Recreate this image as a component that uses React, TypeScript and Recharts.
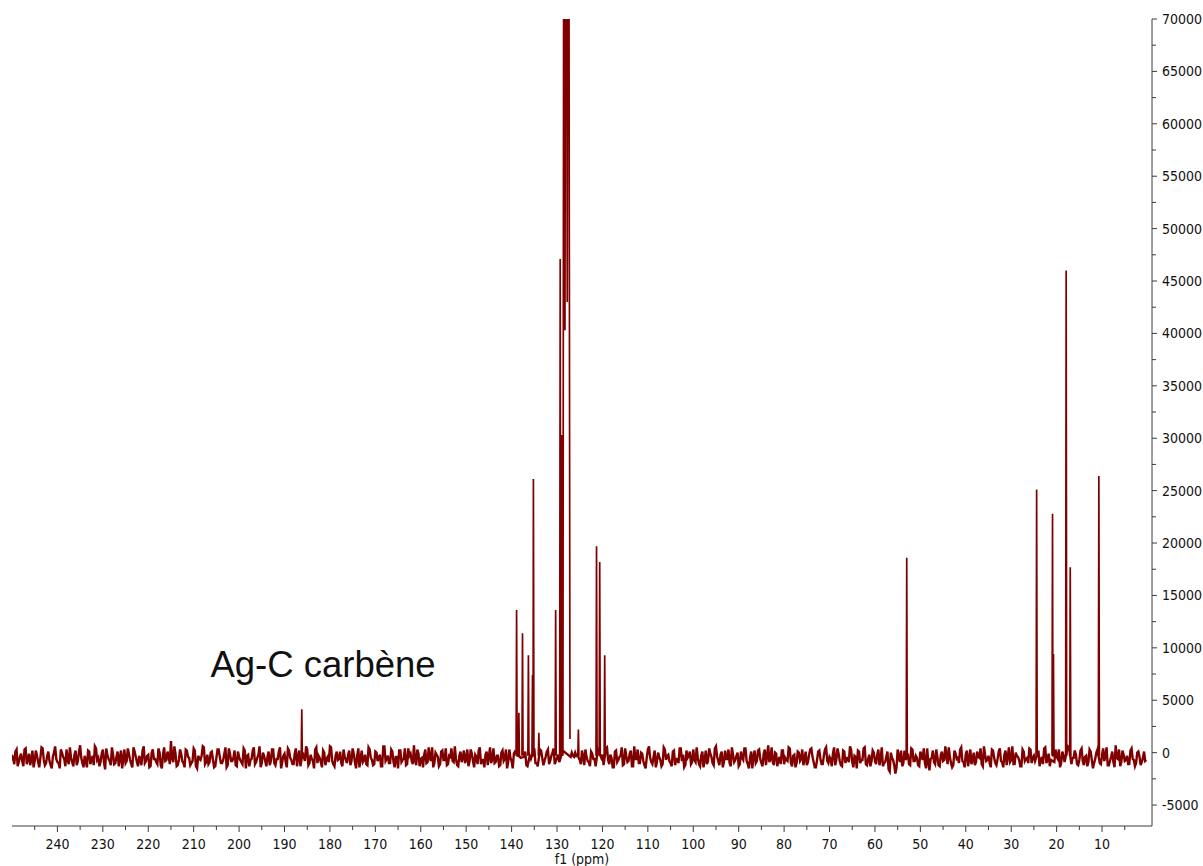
import React from 'react';
import { LineChart, Line, XAxis, YAxis, ReferenceDot } from 'recharts';

// baseline noise (in hundreds). noiseA: every 0.5 ppm from 250 ppm,
// noiseB: the points in between (offset by 0.25 ppm)
const noiseStart = 250;
const noiseStep = 0.5;
const noiseA = [
  -2, -11, 3, -9, -1, -13, 4, -6, -12, 2,
  -8, -3, -14, 5, -7, -10, 1, -12, -4, 6,
  -9, -15, 0, -6, 3, -11, -5, -13, 2, -8,
  7, -10, -3, -14, 1, -7, -12, 4, -5, -9,
  3, -16, -2, -8, 5, -11, -4, -13, 2, -6,
  -10, 4, -7, -14, 1, -9, -3, -12, 6, -8,
  -2, -13, 3, -6, -11, 0, -15, 5, -7, -4,
  11, -9, -1, -12, 3, -8, -14, 2, -5, -10,
  4, -13, -3, -7, 6, -11, -2, -9, 1, -14,
  -5, 3, -10, -7, 5, -12, -1, -8, 2, -13,
  -4, -9, 4, -15, -2, -7, 2, -11, -5, 6,
  -10, -3, -13, 1, -8, 3, -12, -6, 5, -9,
  -1, -14, 2, -7, -11, 4, -4, -13, 0, -8,
  3, -10, -6, -15, 5, -3, -9, 2, -12, -4,
  6, -8, -13, 1, -6, -10, 3, -7, -2, -12,
  4, -9, -3, -14, 2, -7, -11, 5, -5, -12,
  1, -8, -2, -13, 6, -6, -10, 3, -9, -4,
  -15, 2, -7, 4, -11, -3, -8, 7, -12, -1,
  -6, -14, 3, -9, -5, 5, -10, -2, -13, 1,
  -7, 4, -11, -4, -8, 6, -12, -3, -9, 2,
  -6, -13, 3, -8, -2, -11, 5, -7, -14, 1,
  -4, -10, 4, -9, -3, -12, 2, -6, -15, 3,
  -8, -1, -11, 5, -5, -9, 1, -13, -3, -7,
  4, -10, -6, 2, -12, -4, 3, -8, 0, -11,
  -5, -9, -2, -6, 1, -8, -4, -3, 0, -2,
  -7, 2, -12, -4, -9, 1, -6, -13, 3, -10,
  -2, -8, 5, -11, -5, -14, 2, -7, -3, -12,
  4, -9, -1, -13, 6, -6, -10, 0, -8, -15,
  3, -5, -11, 2, -9, -4, -13, 5, -7, -2,
  -10, 1, -12, -6, 4, -8, -14, 2, -3, -11,
  3, -9, -5, -13, 1, -7, -11, 4, -4, -12,
  6, -8, -2, -14, 2, -6, -10, 5, -9, -3,
  -13, 1, -7, 4, -11, -5, -15, 2, -8, 3,
  -10, -1, -12, 7, -6, -9, 0, -13, -4, 2,
  -11, -7, 5, -10, -3, -14, 1, -8, 3, -6,
  -12, -2, 4, -9, -14, 1, -6, -11, 3, -8,
  -4, -13, 5, -7, -1, -12, 2, -10, -5, 6,
  -9, -3, -15, 1, -7, 4, -11, -6, -13, 2,
  -8, -2, -12, 5, -10, -4, -16, 0, -7, -20,
  3, -9, -13, 2, -6, -11, 4, -8, -3, -12,
  1, -7, -10, 4, -17, -5, -9, 3, -12, -2,
  -8, 6, -11, -4, -14, 2, -6, -10, 5, -9,
  -1, -13, 3, -7, -12, 1, -5, -11, 6, -8,
  -3, -14, 2, -10, -6, 4, -9, -2, -12, 5,
  -7, -11, 0, -4, -13, 3, -8, -5, 4, -10,
  -3, -12, 2, -7, -11, 5, -6, -13, 1, -9,
  -4, 3, -10, -2, -14, 6, -8, -5, 2, -11,
  -7, 4, -12, -3, -9, 1, -15, -6, 3, -10,
  -2, -8, 5, -12, -4, -9, 7, -6, -13, 2,
  -8, -3, -11, 4, -7, -10, 1, -12, -5, -8,
];
const noiseB = [
  -6, 1, -13, -4, -8, 3, -11, -1, -7, -14,
  2, -9, -5, 4, -12, -3, -8, -15, 0, -6,
  -10, 3, -4, -13, -7, 5, -9, -2, -12, 1,
  -5, -14, -8, 2, -11, -3, 6, -7, -13, -1,
  -9, 4, -6, -12, -2, -10, 1, -5, -15, 3,
  -8, -1, -11, 5, -4, -13, -7, 2, -10, -3,
  -14, 0, -6, -9, 4, -12, -2, -8, 1, -11,
  -5, 6, -13, -7, -1, -10, 3, -4, -12, -8,
  2, -15, -6, -3, 5, -9, -11, 0, -7, -13,
  3, -4, -10, -1, -14, 4, -8, -5, -12, 1,
  -7, -11, 2, -3, -13, -6, 5, -9, -2, -14,
  0, -8, -4, -12, 3, -10, -6, 1, -15, -3,
  -9, 4, -5, -11, -1, -13, 2, -7, -4, 6,
  -12, -2, -8, 3, -10, -5, -14, 0, -6, -9,
  5, -11, -3, -7, 1, -13, -4, -10, 2, -8,
  -1, -15, 4, -6, -9, -2, -12, 3, -7, -11,
  0, -5, -13, 6, -8, -3, -10, 1, -14, -4,
  2, -9, -6, -12, 4, -1, -11, -7, 3, -13,
  -5, -2, -10, 5, -8, -14, 0, -4, -11, 2,
  -7, -12, -3, 4, -9, -6, -13, 1, -5, -10,
  3, -8, -1, -14, -4, 2, -11, -7, -2, -12,
  5, -6, -10, -3, -13, 0, -8, 3, -9, -5,
  -15, 1, -7, -11, 4, -4, -12, -2, -6, 2,
  -10, -13, 3, -5, -8, 1, -11, -3, 4, -7,
  -2, -9, 2, -5, -1, -6, 0, -4, -3, -1,
  -11, -4, 3, -8, -13, -1, -6, 2, -10, -5,
  -12, 4, -7, -2, -14, 1, -9, -4, 5, -11,
  -3, -8, 2, -13, -6, 3, -10, -1, -12, -5,
  6, -9, -4, -14, 0, -7, -11, 3, -3, -8,
  -13, 2, -6, -10, 4, -2, -12, -5, 1, -9,
  -7, 5, -11, -3, -14, 2, -8, -1, -10, 4,
  -4, -12, 1, -9, -6, 3, -13, -2, -7, 0,
  -11, -5, 4, -8, -15, 1, -4, -10, 2, -6,
  -13, 3, -3, -9, 5, -12, -1, -7, -11, 2,
  -5, -8, 4, -13, -2, -10, 0, -6, -12, 1,
  -9, 3, -4, -14, -7, 2, -11, -3, 5, -10,
  -6, -1, -12, 4, -8, -13, 1, -5, -9, 3,
  -14, -4, 2, -10, -7, 5, -12, -2, -8, 0,
  -11, 3, -6, -13, -9, 1, -18, -5, -12, -14,
  -4, 2, -10, -7, -1, -12, 3, -8, -5, -13,
  -2, 4, -15, -9, -6, 2, -11, -4, -13, 1,
  -7, -3, 5, -10, -12, -1, -5, 3, -8, -14,
  2, -6, -11, 0, -9, -4, 4, -13, -2, -7,
  -10, 3, -5, -12, 1, -8, -14, 2, -4, -9,
  6, -11, -3, -7, -13, 1, -6, -10, 3, -5,
  -8, 2, -13, -4, 4, -10, -1, -7, -12, 3,
  -6, -14, 1, -9, -3, 5, -11, -5, -2, -12,
  2, -8, -4, -13, 3, -7, -10, 0, -6, -11,
  4, -3, -12, -8, 1, -14, -5, 3, -9, -2,
  -7, -11, 2, -6, -13, 0, -4, -9, 1, -7,
];

// 13C peaks (ppm, intensity)
const peakPpm = [
  186.2, 138.9, 138.4, 137.6, 136.3, 135.4, 135.2, 134.0, 130.3, 129.3, 129.0,
  125.3, 121.3, 120.6, 119.5, 53.0, 24.4, 20.9, 20.7, 17.9, 17.0, 10.7,
];
const peakHeight = [
  4150, 13600, 3800, 11400, 9300, 7400, 26100, 1900, 13600, 47100, 30300,
  2200, 19700, 18200, 9300, 18600, 25100, 22800, 9400, 46000, 17700, 26400,
];
const peakBase = -300;

// C6D6 triplet, runs off the top of the plot
const solventPpm = [128.7, 128.45, 128.25, 128.0, 127.75, 127.5, 127.15];
const solventValue = [-300, 120000, 40300, 120000, 43000, 120000, 1300];

const xTicks = [
  245, 240, 235, 230, 225, 220, 215, 210, 205, 200, 195, 190, 185, 180, 175, 170,
  165, 160, 155, 150, 145, 140, 135, 130, 125, 120, 115, 110, 105, 100, 95, 90,
  85, 80, 75, 70, 65, 60, 55, 50, 45, 40, 35, 30, 25, 20, 15, 10, 5,
];
const yTicks = [
  -5000, -2500, 0, 2500, 5000, 7500, 10000, 12500, 15000, 17500, 20000, 22500,
  25000, 27500, 30000, 32500, 35000, 37500, 40000, 42500, 45000, 47500, 50000,
  52500, 55000, 57500, 60000, 62500, 65000, 67500, 70000,
];

const annotation = 'Ag-C carbène';
const annotationPpm = 206.3;
const annotationValue = 7200;

const traceColor = '#800000';
const axisColor = '#3c3c3c';
const tickFont = "'DejaVu Sans Condensed', 'Open Sans', sans-serif";

const halfWidth = 0.12;

type Pt = { ppm: number; noise?: number | null; peak?: number | null };

// noise and peaks as two keys of one table: the noise line bridges the peaks,
// each peak is drawn as its own spike from the baseline
const spectrum = (() => {
  const pts: Pt[] = [];
  const near = (p: number) =>
    peakPpm.some((q) => Math.abs(q - p) < 0.16) ||
    (p <= solventPpm[0] && p >= solventPpm[solventPpm.length - 1]);
  const addNoise = (arr: number[], start: number) =>
    arr.forEach((n, i) => {
      const p = start - i * noiseStep;
      if (!near(p)) pts.push({ ppm: p, noise: n * 100, peak: null });
    });
  addNoise(noiseA, noiseStart);
  addNoise(noiseB, noiseStart - noiseStep / 2);
  peakPpm.forEach((p, i) => {
    pts.push({ ppm: p + halfWidth, peak: peakBase, noise: null });
    pts.push({ ppm: p, peak: peakHeight[i], noise: null });
    pts.push({ ppm: p - halfWidth, peak: peakBase, noise: null });
  });
  solventPpm.forEach((p, i) => pts.push({ ppm: p, peak: solventValue[i], noise: null }));
  return pts.sort((a, b) => b.ppm - a.ppm);
})();

const XTick = (props: any) => {
  const { x, y, payload } = props;
  const major = payload.value % 10 === 0;
  return (
    <g>
      <line x1={x} x2={x} y1={y} y2={y + (major ? 6 : 4)} stroke={axisColor} />
      {major && (
        <text x={x} y={y + 23} textAnchor="middle" fontSize={14} fontFamily={tickFont} fill="#111">
          {payload.value}
        </text>
      )}
    </g>
  );
};

const YTick = (props: any) => {
  const { x, y, payload } = props;
  const major = payload.value % 5000 === 0;
  return (
    <g>
      <line x1={x} x2={x + (major ? 5 : 4)} y1={y} y2={y} stroke={axisColor} />
      {major && (
        <text x={x + 10} y={y + 5} textAnchor="start" fontSize={14} fontFamily={tickFont} fill="#111">
          {payload.value}
        </text>
      )}
    </g>
  );
};

const AnnotationText = (props: any) => (
  <text
    x={props.cx}
    y={props.cy}
    fontSize={36.5}
    fontFamily="'Liberation Sans', Arial, sans-serif"
    fill="#111"
  >
    {annotation}
  </text>
);

export default function App() {
  return (
    <div style={{ position: 'absolute', left: 0, top: 0, background: '#fff' }}>
      <LineChart
        width={1203}
        height={866}
        data={spectrum}
        margin={{ top: 19, right: 0, bottom: 0, left: 12 }}
      >
        <XAxis
          dataKey="ppm"
          type="number"
          domain={[-1, 250]}
          reversed
          ticks={xTicks}
          interval={0}
          height={40}
          tickLine={false}
          tickSize={0}
          tickMargin={0}
          tick={<XTick />}
          axisLine={{ stroke: axisColor }}
          allowDataOverflow
          label={{
            value: 'f1 (ppm)',
            position: 'insideBottom',
            offset: 2,
            fontSize: 14,
            fontFamily: tickFont,
            fill: '#111',
          }}
        />
        <YAxis
          orientation="right"
          type="number"
          domain={[-7000, 70000]}
          ticks={yTicks}
          interval={0}
          width={51}
          tickLine={false}
          tickSize={0}
          tickMargin={0}
          tick={<YTick />}
          axisLine={{ stroke: axisColor }}
          allowDataOverflow
        />
        <Line
          dataKey="noise"
          type="linear"
          stroke={traceColor}
          strokeWidth={2.4}
          connectNulls
          dot={false}
          activeDot={false}
          isAnimationActive={false}
        />
        <Line
          dataKey="peak"
          type="linear"
          stroke={traceColor}
          strokeWidth={1.7}
          dot={false}
          activeDot={false}
          isAnimationActive={false}
        />
        <ReferenceDot
          x={annotationPpm}
          y={annotationValue}
          r={0}
          shape={<AnnotationText />}
        />
      </LineChart>
    </div>
  );
}
